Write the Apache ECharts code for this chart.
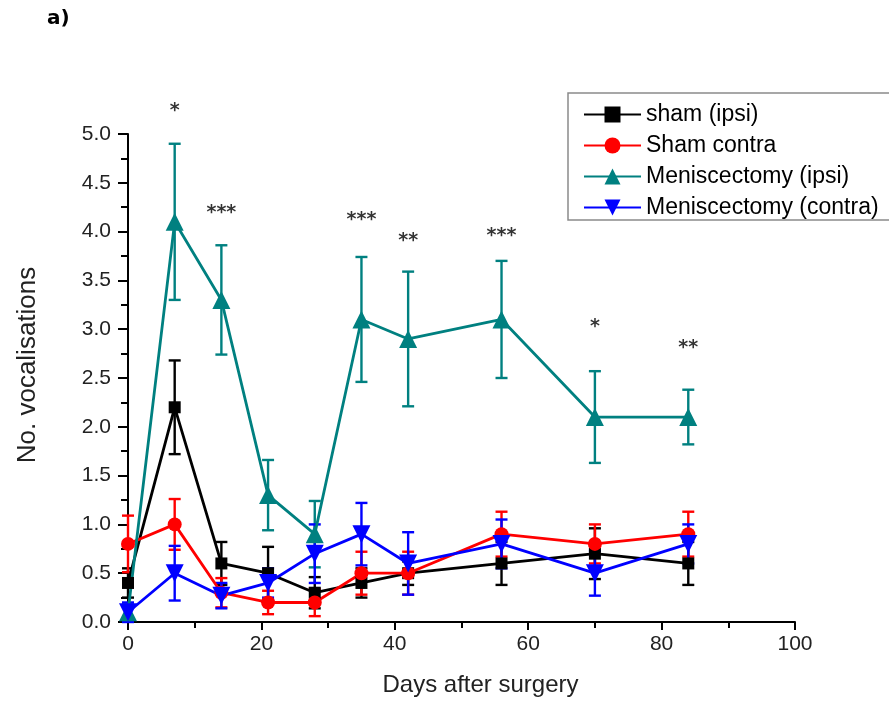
<!DOCTYPE html>
<html>
<head>
<meta charset="utf-8">
<title>No. vocalisations after surgery</title>
<script src="https://cdn.jsdelivr.net/npm/echarts@6/dist/echarts.min.js"></script>
<style>
  html, body { margin: 0; padding: 0; background: #ffffff; }
  #chart { width: 889px; height: 704px; }
</style>
</head>
<body>
<div id="chart"></div>
<script>
// Time points (days after surgery)
const days = [0, 7, 14, 21, 28, 35, 42, 56, 70, 84];

// Mean vocalisations and SEM per group
const shamIpsi        = [0.4, 2.2, 0.6, 0.5, 0.3, 0.4, 0.5, 0.6, 0.7, 0.6];
const shamIpsiErr     = [0.15, 0.48, 0.22, 0.27, 0.16, 0.15, 0.12, 0.22, 0.26, 0.22];
const shamContra      = [0.8, 1.0, 0.3, 0.2, 0.2, 0.5, 0.5, 0.9, 0.8, 0.9];
const shamContraErr   = [0.29, 0.26, 0.15, 0.12, 0.14, 0.22, 0.22, 0.23, 0.2, 0.23];
const menIpsi         = [0.1, 4.1, 3.3, 1.3, 0.9, 3.1, 2.9, 3.1, 2.1, 2.1];
const menIpsiErr      = [0.08, 0.8, 0.56, 0.36, 0.34, 0.64, 0.69, 0.6, 0.47, 0.28];
const menContra       = [0.1, 0.5, 0.27, 0.4, 0.7, 0.9, 0.6, 0.8, 0.5, 0.8];
const menContraErr    = [0.1, 0.28, 0.13, 0.15, 0.3, 0.32, 0.32, 0.25, 0.23, 0.2];

// Significance markers
const starDays   = [7, 14, 35, 42, 56, 70, 84];
const starMarks  = ['*', '***', '***', '**', '***', '*', '**'];
const starLevels = [5.29, 4.24, 4.17, 3.95, 4.01, 3.07, 2.86];

// Axis ticks
const xTicks = [0, 20, 40, 60, 80, 100];
const yTicks = [0, 0.5, 1, 1.5, 2, 2.5, 3, 3.5, 4, 4.5, 5];

const groups = [
  { name: 'sham (ipsi)',          mean: shamIpsi,   err: shamIpsiErr,   color: '#000000', symbol: 'rect',     size: 12, rotate: 0 },
  { name: 'Sham contra',          mean: shamContra, err: shamContraErr, color: '#ff0000', symbol: 'circle',   size: 14, rotate: 0 },
  { name: 'Meniscectomy (ipsi)',  mean: menIpsi,    err: menIpsiErr,    color: '#008080', symbol: 'triangle', size: 18, rotate: 0 },
  { name: 'Meniscectomy (contra)',mean: menContra,  err: menContraErr,  color: '#0000ff', symbol: 'triangle', size: 18, rotate: 180 }
];

const FONT = '"Liberation Sans", Arial, sans-serif';

function errorBarSeries(g) {
  return {
    type: 'custom',
    name: g.name + ' SEM',
    data: days.map((d, i) => [d, g.mean[i] - g.err[i], g.mean[i] + g.err[i]]),
    encode: { x: 0, y: [1, 2] },
    clip: false,
    silent: true,
    renderItem: function (params, api) {
      const lo = api.coord([api.value(0), api.value(1)]);
      const hi = api.coord([api.value(0), api.value(2)]);
      const hw = 6;
      const style = { stroke: g.color, lineWidth: 2.4, fill: 'none' };
      return {
        type: 'group',
        children: [
          { type: 'line', shape: { x1: lo[0], y1: lo[1], x2: hi[0], y2: hi[1] }, style: style },
          { type: 'line', shape: { x1: hi[0] - hw, y1: hi[1], x2: hi[0] + hw, y2: hi[1] }, style: style },
          { type: 'line', shape: { x1: lo[0] - hw, y1: lo[1], x2: lo[0] + hw, y2: lo[1] }, style: style }
        ]
      };
    }
  };
}

function lineSeries(g) {
  return {
    type: 'line',
    name: g.name,
    data: days.map((d, i) => [d, g.mean[i]]),
    symbol: g.symbol,
    symbolSize: g.size,
    symbolRotate: g.rotate,
    showAllSymbol: true,
    clip: false,
    lineStyle: { color: g.color, width: 2.8 },
    itemStyle: { color: g.color, borderWidth: 0 },
    emphasis: { disabled: true }
  };
}

const series = [];
groups.forEach(g => { series.push(errorBarSeries(g)); series.push(lineSeries(g)); });

series.push({
  type: 'scatter',
  name: 'significance',
  data: starDays.map((d, i) => ({ value: [d, starLevels[i]], mark: starMarks[i] })),
  symbolSize: 1,
  clip: false,
  silent: true,
  itemStyle: { color: 'rgba(0,0,0,0)' },
  label: {
    show: true,
    position: 'inside',
    offset: [0, 5],
    formatter: p => p.data.mark,
    fontFamily: '"DejaVu Sans", sans-serif',
    fontWeight: 'bold',
    fontSize: 19,
    color: '#000'
  }
});

const chart = echarts.init(document.getElementById('chart'), null, { renderer: 'canvas' });

chart.setOption({
  backgroundColor: '#ffffff',
  animation: false,
  grid: { left: 128, right: 94, top: 134, bottom: 82, containLabel: false, outerBoundsMode: 'none' },
  legend: {
    data: groups.map(g => g.name),
    orient: 'vertical',
    left: 583,
    top: 103,
    itemGap: 8,
    itemWidth: 57,
    itemHeight: 20,
    padding: 0,
    textStyle: { fontFamily: FONT, fontSize: 23, lineHeight: 23, color: '#000' },
    selectedMode: false
  },
  graphic: [
    {
      type: 'rect',
      shape: { x: 568, y: 93, width: 340, height: 127 },
      style: { fill: 'none', stroke: '#8a8a8a', lineWidth: 1.5 },
      z: 10
    },
    {
      type: 'text',
      left: 47,
      top: 9,
      style: { text: 'a)', fontFamily: '"DejaVu Sans", sans-serif', fontWeight: 'bold', fontSize: 20, fill: '#000' }
    }
  ],
  xAxis: {
    type: 'value',
    min: xTicks[0],
    max: xTicks[xTicks.length - 1],
    interval: 20,
    name: 'Days after surgery',
    nameLocation: 'middle',
    nameGap: 51,
    nameTextStyle: { fontFamily: FONT, fontSize: 24, color: '#222', padding: [0, 0, 0, 38] },
    axisLine: { show: true, onZero: false, lineStyle: { color: '#000', width: 2 } },
    axisTick: { show: true, inside: false, length: 8, lineStyle: { color: '#000', width: 2 } },
    minorTick: { show: true, splitNumber: 2, length: 6, lineStyle: { color: '#000', width: 2 } },
    axisLabel: { margin: 12, fontFamily: FONT, fontSize: 21, color: '#222' },
    splitLine: { show: false }
  },
  yAxis: {
    type: 'value',
    min: yTicks[0],
    max: yTicks[yTicks.length - 1],
    interval: 0.5,
    name: 'No. vocalisations',
    nameLocation: 'middle',
    nameGap: 87,
    nameRotate: 90,
    nameTextStyle: { fontFamily: FONT, fontSize: 26, color: '#222', padding: [0, 0, 0, 26] },
    axisLine: { show: true, onZero: false, lineStyle: { color: '#000', width: 2 } },
    axisTick: { show: true, inside: false, length: 10, lineStyle: { color: '#000', width: 2 } },
    minorTick: { show: true, splitNumber: 2, length: 7, lineStyle: { color: '#000', width: 2 } },
    axisLabel: { margin: 17, fontFamily: FONT, fontSize: 21, color: '#222', formatter: v => v.toFixed(1) },
    splitLine: { show: false }
  },
  series: series
});
</script>
</body>
</html>
